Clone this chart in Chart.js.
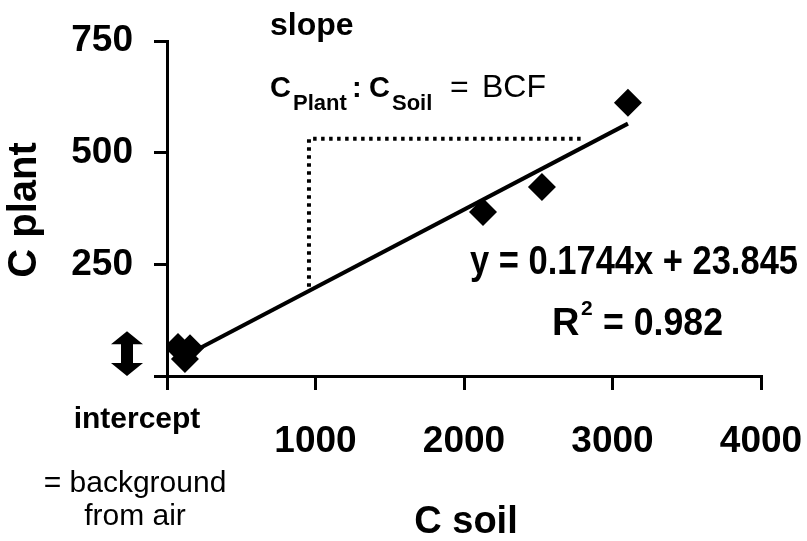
<!DOCTYPE html>
<html>
<head>
<meta charset="utf-8">
<script src="https://cdn.jsdelivr.net/npm/chart.js@4/dist/chart.umd.min.js"></script>
<style>
    body { margin: 0; background: #fff; }
    canvas { display: block; }
</style>
</head>
<body>
<canvas id="bcfChart" width="807" height="541"></canvas>
<script>
// measured points: soil vs plant concentration
const soilValues = [74, 121, 155, 2128, 2525, 3104]
const plantValues = [65, 38, 62, 367, 423, 612]

// fitted line at its two ends
const trendSoil = [120, 3104]
const trendPlant = [45, 565]

// dotted slope guide (vertical drop + horizontal run)
const guideSoil = [956, 956, 2800]
const guidePlant = [200, 531, 531]

// intercept arrow range on the y axis
const interceptRange = [0, 100]

const xTickValues = [0, 1000, 2000, 3000, 4000]
const yTickValues = [0, 250, 500, 750]

const FONT = '"Liberation Sans", Arial, sans-serif'

function toPoints(xs, ys) {
    return xs.map((x, i) => ({ x, y: ys[i] }))
}

function hideZero(value) {
    return value === 0 ? '' : String(value)
}

function drawText(ctx, text, x, y, font, align, maxWidth) {
    ctx.font = font
    ctx.textAlign = align || 'left'
    ctx.textBaseline = 'alphabetic'
    if (maxWidth) ctx.fillText(text, x, y, maxWidth)
    else ctx.fillText(text, x, y)
}

const annotations = {
    id: 'annotations',
    afterDraw(chart) {
        const ctx = chart.ctx
        const yScale = chart.scales.y
        ctx.save()
        ctx.fillStyle = '#000'

        // axis titles
        drawText(ctx, 'C soil', 466, 533, 'bold 38px ' + FONT, 'center')
        ctx.save()
        ctx.translate(36, 210)
        ctx.rotate(-Math.PI / 2)
        drawText(ctx, 'C plant', 0, 0, 'bold 40px ' + FONT, 'center')
        ctx.restore()

        // slope note
        drawText(ctx, 'slope', 270, 35, 'bold 32px ' + FONT)
        drawText(ctx, 'C', 270, 97, 'bold 29px ' + FONT)
        drawText(ctx, 'Plant', 293, 110, 'bold 22px ' + FONT)
        drawText(ctx, ':', 352, 97, 'bold 29px ' + FONT)
        drawText(ctx, 'C', 369, 97, 'bold 29px ' + FONT)
        drawText(ctx, 'Soil', 392, 110, 'bold 22px ' + FONT)
        drawText(ctx, '=', 450, 97, '32px ' + FONT)
        drawText(ctx, 'BCF', 482, 97, '32px ' + FONT)

        // regression equation
        drawText(ctx, 'y = 0.1744x + 23.845', 798, 274, 'bold 40px ' + FONT, 'right', 328)
        drawText(ctx, 'R', 552, 335, 'bold 38px ' + FONT)
        drawText(ctx, '2', 581, 315, 'bold 21px ' + FONT)
        drawText(ctx, '= 0.982', 603, 335, 'bold 38px ' + FONT, 'left', 120)

        // intercept note
        drawText(ctx, 'intercept', 137, 428, 'bold 30px ' + FONT, 'center')
        drawText(ctx, '= background', 135, 492, '30px ' + FONT, 'center')
        drawText(ctx, 'from air', 135, 525, '30px ' + FONT, 'center')

        // double arrow for the intercept
        const top = yScale.getPixelForValue(interceptRange[1])
        const bottom = yScale.getPixelForValue(interceptRange[0])
        const cx = 127, head = 13, headHalf = 16, shaftHalf = 6
        ctx.beginPath()
        ctx.moveTo(cx, top)
        ctx.lineTo(cx + headHalf, top + head)
        ctx.lineTo(cx + shaftHalf, top + head)
        ctx.lineTo(cx + shaftHalf, bottom - head)
        ctx.lineTo(cx + headHalf, bottom - head)
        ctx.lineTo(cx, bottom)
        ctx.lineTo(cx - headHalf, bottom - head)
        ctx.lineTo(cx - shaftHalf, bottom - head)
        ctx.lineTo(cx - shaftHalf, top + head)
        ctx.lineTo(cx - headHalf, top + head)
        ctx.closePath()
        ctx.fill()

        ctx.restore()
    }
}

const axisLine = { display: true, color: '#000', width: 3 }
const tickFont = { family: FONT, size: 37, weight: 'bold' }

new Chart(document.getElementById('bcfChart'), {
    type: 'scatter',
    data: {
        datasets: [
            {
                label: 'measured',
                data: toPoints(soilValues, plantValues),
                pointStyle: 'rectRot',
                pointRadius: 14,
                pointHoverRadius: 14,
                backgroundColor: '#000',
                borderColor: '#000',
                borderWidth: 0,
            },
            {
                label: 'trend',
                data: toPoints(trendSoil, trendPlant),
                showLine: true,
                pointRadius: 0,
                borderColor: '#000',
                borderWidth: 4,
            },
            {
                label: 'guide',
                data: toPoints(guideSoil, guidePlant),
                showLine: true,
                pointRadius: 0,
                borderColor: '#000',
                borderWidth: 4,
                borderDash: [3.5, 4.5],
            },
        ],
    },
    options: {
        responsive: false,
        animation: false,
        events: [],
        layout: { padding: { top: 41, right: 46, left: 0, bottom: 0 } },
        plugins: {
            legend: { display: false },
            tooltip: { enabled: false },
        },
        scales: {
            x: {
                type: 'linear',
                min: xTickValues[0],
                max: xTickValues[xTickValues.length - 1],
                afterBuildTicks: scale => { scale.ticks = xTickValues.map(value => ({ value })) },
                afterFit: scale => {
                    scale.height = 165
                    scale.paddingLeft = 0
                    scale.paddingRight = 0
                },
                border: axisLine,
                grid: { drawOnChartArea: false, drawTicks: true, tickLength: 14, color: '#000', lineWidth: 3 },
                ticks: { color: '#000', font: tickFont, padding: 30, maxRotation: 0, callback: hideZero },
            },
            y: {
                type: 'linear',
                min: yTickValues[0],
                max: yTickValues[yTickValues.length - 1],
                afterBuildTicks: scale => { scale.ticks = yTickValues.map(value => ({ value })) },
                afterFit: scale => {
                    scale.width = 167
                    scale.paddingTop = 0
                    scale.paddingBottom = 0
                },
                border: axisLine,
                grid: { drawOnChartArea: false, drawTicks: true, tickLength: 13, color: '#000', lineWidth: 3 },
                ticks: { color: '#000', font: tickFont, padding: 21, callback: hideZero },
            },
        },
    },
    plugins: [annotations],
})
</script>
</body>
</html>
